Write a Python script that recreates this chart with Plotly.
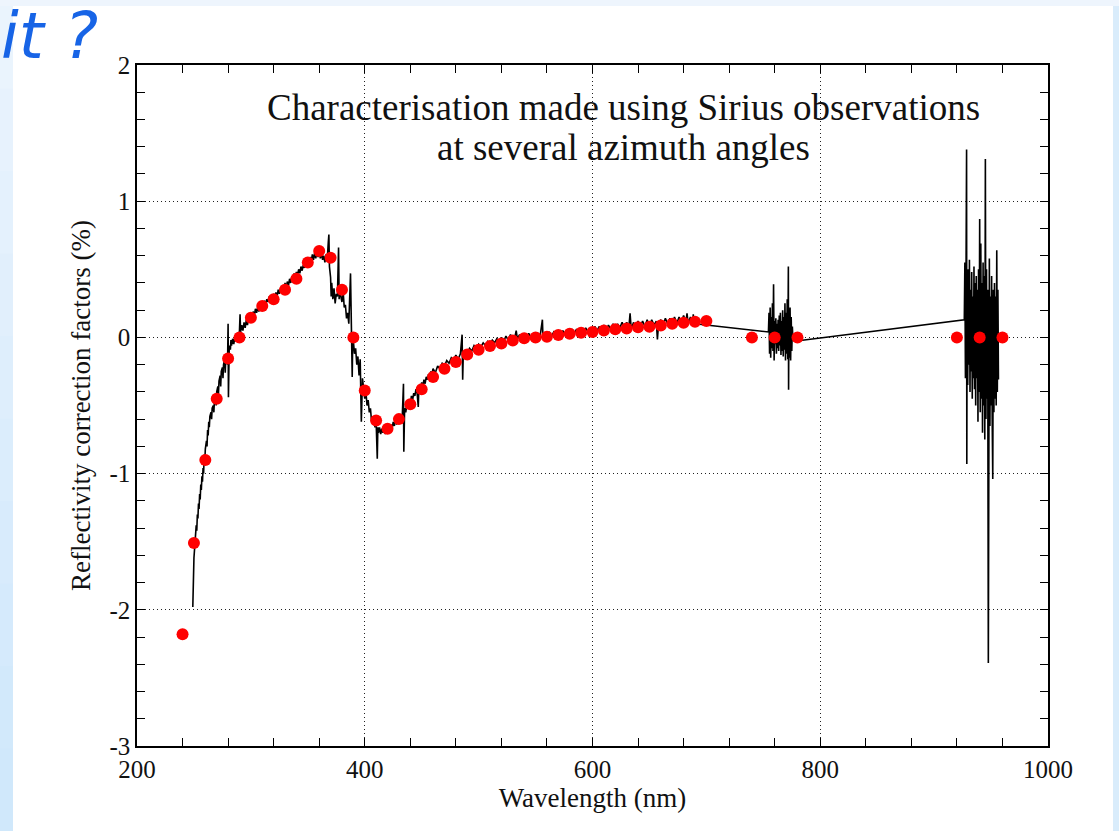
import plotly.graph_objects as go

# ---------------- data ----------------
# red points: characterisation (reflectivity correction, %)
pt_wl = [240, 250, 260, 270, 280, 290, 300, 310, 320, 330, 340, 350, 360, 370, 380, 390,
         400, 410, 420, 430, 440, 450, 460, 470, 480, 490, 500, 510, 520, 530, 540, 550,
         560, 570, 580, 590, 600, 610, 620, 630, 640, 650, 660, 670, 680, 690, 700,
         740, 760, 780, 920, 940, 960]
pt_val = [-2.18, -1.51, -0.90, -0.45, -0.155, 0.0, 0.145, 0.23, 0.28, 0.35, 0.43, 0.55, 0.635, 0.585, 0.35, 0.0,
          -0.39, -0.61, -0.67, -0.60, -0.49, -0.38, -0.29, -0.23, -0.18, -0.125, -0.09, -0.064, -0.044, -0.022, -0.007, 0.0,
          0.005, 0.017, 0.027, 0.034, 0.039, 0.05, 0.059, 0.066, 0.075, 0.078, 0.088, 0.10, 0.108, 0.115, 0.12,
          0.0, 0.0, 0.0, 0.0, 0.0, 0.0]

# black measured spectrum, UV part (249-400 nm)
uv_wl = [249.0, 249.3, 249.6, 250.0, 250.5, 251.0, 251.5, 252, 252.5, 253, 253.5, 254, 254.5, 255, 255.5,
         256, 256.5, 257, 257.5, 258, 258.5, 259, 259.5, 260, 261, 261.5, 262, 262.5, 263, 263.5, 264, 265,
         265.5, 266, 267, 267.5, 268, 269, 269.5, 270, 271, 271.5, 272, 273, 273.5, 274, 275, 275.5, 276,
         277, 277.5, 278, 279, 279.5, 280, 280.3, 280.6, 281, 282, 282.5, 283, 284, 285, 286, 287, 288, 289,
         290, 290.5, 291, 292, 293, 294, 295, 296, 297, 298, 299, 300, 301, 302, 303, 304, 305, 306, 307,
         308, 309, 310, 311, 312, 313, 314, 315, 316, 317, 318, 319, 320, 321, 322, 323, 324, 325, 326, 327,
         328, 329, 330, 331, 332, 333, 334, 335, 336, 337, 338, 339, 340, 341, 342, 343, 344, 345, 346, 347,
         348, 349, 350, 351, 352, 353, 354, 355, 356, 357, 358, 359, 360, 361, 362, 363, 364, 365, 366, 367,
         368, 368.5, 369, 370, 370.5, 371, 372, 373, 374, 375, 376, 377, 377.5, 378, 379, 380, 381, 382, 383,
         384, 385, 386, 387.5, 388, 389, 389.5, 390, 391, 392, 393, 394, 395, 396, 397, 398, 399, 400]
uv_val = [-1.98, -1.75, -1.88, -1.62, -1.56, -1.50, -1.45, -1.38, -1.42, -1.30, -1.33, -1.22, -1.26, -1.15, -1.19,
          -1.08, -1.12, -1.02, -1.06, -0.96, -1.00, -0.86, -0.92, -0.82, -0.76, -0.80, -0.68, -0.72, -0.62, -0.66, -0.58, -0.55,
          -0.60, -0.52, -0.50, -0.55, -0.46, -0.42, -0.50, -0.40, -0.36, -0.42, -0.32, -0.28, -0.36, -0.25, -0.22, -0.30, -0.20,
          -0.16, -0.26, -0.14, -0.12, -0.20, 0.10, -0.44, -0.10, -0.06, -0.09, -0.02, -0.06, -0.01, -0.05, 0.01, -0.03, 0.02, -0.01,
          0.05, 0.17, 0.04, 0.09, 0.05, 0.11, 0.07, 0.13, 0.09, 0.15, 0.12, 0.17, 0.14, 0.19, 0.16, 0.21, 0.18, 0.22, 0.19,
          0.24, 0.21, 0.25, 0.22, 0.27, 0.24, 0.28, 0.26, 0.30, 0.27, 0.31, 0.28, 0.32, 0.29, 0.33, 0.30, 0.35, 0.32, 0.36, 0.33,
          0.38, 0.34, 0.40, 0.36, 0.41, 0.38, 0.43, 0.40, 0.45, 0.42, 0.47, 0.44, 0.48, 0.46, 0.50, 0.47, 0.52, 0.49, 0.53, 0.51,
          0.55, 0.53, 0.57, 0.54, 0.59, 0.56, 0.61, 0.57, 0.62, 0.58, 0.64, 0.59, 0.63, 0.58, 0.62, 0.57, 0.60, 0.55, 0.61, 0.56,
          0.70, 0.755, 0.52, 0.44, 0.30, 0.40, 0.28, 0.36, 0.25, 0.32, 0.30, 0.66, 0.28, 0.36, 0.30, 0.26, 0.34, 0.22, 0.24,
          0.14, 0.18, 0.10, 0.47, 0.08, -0.29, 0.02, -0.05, -0.12, -0.08, -0.20, -0.14, -0.28, -0.16, -0.62, -0.30, -0.38, -0.45]

# black measured spectrum, visible part (401-694 nm)
vis_wl = [401, 402, 403, 404, 405, 406, 407, 408, 409, 410, 411, 411.5, 412, 413, 414, 415, 416, 417, 418, 419,
          420, 421, 422, 423, 424, 425, 426, 427, 428, 429, 430, 433, 434, 434.3, 434.6, 435, 436, 437, 438, 439,
          440, 441, 442, 443, 444, 445, 446, 447, 447.5, 448, 449, 450, 451, 452, 453, 454, 455, 456, 457, 458,
          459, 460, 462, 464, 466, 468, 470, 472, 474, 476, 478, 480, 482, 484, 485.5, 486, 486.5, 488, 490, 492,
          494, 496, 498, 500, 502, 504, 506, 508, 510, 512, 514, 516, 518, 520, 522, 524, 526, 528, 530, 532,
          533, 534, 536, 538, 540, 542, 544, 546, 548, 550, 552, 554, 556, 556.5, 558, 560, 562, 564, 566, 568,
          570, 572, 574, 576, 578, 580, 582, 584, 586, 588, 590, 592, 594, 596, 598, 600, 602, 604, 606, 608,
          610, 612, 614, 616, 618, 620, 622, 624, 626, 628, 630, 632, 633, 634, 636, 638, 640, 642, 644, 646,
          648, 650, 652, 654, 656, 657, 658, 660, 662, 664, 666, 668, 670, 672, 674, 676, 678, 680, 682, 683,
          684, 686, 688, 688.5, 689, 690, 692, 694]
vis_val = [-0.40, -0.50, -0.46, -0.55, -0.52, -0.62, -0.58, -0.60, -0.66, -0.62, -0.89, -0.66, -0.70, -0.66, -0.71, -0.67, -0.70, -0.66, -0.71, -0.67,
           -0.70, -0.66, -0.69, -0.64, -0.67, -0.62, -0.65, -0.60, -0.64, -0.59, -0.62, -0.57, -0.34, -0.84, -0.55, -0.52, -0.55, -0.49, -0.52, -0.46,
           -0.49, -0.43, -0.46, -0.41, -0.43, -0.38, -0.41, -0.51, -0.37, -0.35, -0.38, -0.33, -0.36, -0.31, -0.34, -0.29, -0.31, -0.27, -0.29, -0.25,
           -0.27, -0.23, -0.26, -0.21, -0.23, -0.19, -0.21, -0.17, -0.19, -0.15, -0.17, -0.13, -0.16, -0.12, 0.02, -0.31, -0.13, -0.10, -0.12, -0.08,
           -0.10, -0.06, -0.08, -0.05, -0.07, -0.04, -0.06, -0.03, -0.05, -0.02, -0.04, -0.01, -0.03, 0.0, -0.03, 0.01, -0.02, 0.02, -0.01, 0.01,
           0.05, -0.01, 0.02, -0.01, 0.02, 0.0, 0.03, 0.0, 0.03, 0.0, 0.03, 0.01, 0.13, 0.0, 0.03, 0.01, 0.04, 0.01, 0.04, 0.02,
           0.05, 0.02, 0.05, 0.02, 0.05, 0.03, 0.06, 0.03, 0.06, 0.03, 0.06, 0.04, 0.07, 0.04, 0.07, 0.04, 0.08, 0.05, 0.08, 0.05,
           0.09, 0.05, 0.09, 0.06, 0.10, 0.06, 0.10, 0.07, 0.11, 0.07, 0.11, 0.08, 0.176, 0.06, 0.11, 0.07, 0.12, 0.08, 0.12, 0.08,
           0.13, 0.08, 0.13, 0.09, 0.12, -0.015, 0.10, 0.13, 0.09, 0.14, 0.10, 0.14, 0.10, 0.15, 0.10, 0.15, 0.11, 0.16, 0.11, 0.176,
           0.10, 0.15, 0.11, 0.17, 0.10, 0.12, 0.10, 0.097]

# black measured spectrum, O2 A-band region (754-800 nm)
a_wl = [754.5, 755, 755.5, 756, 756.5, 757, 757.5, 758, 758.5, 759, 759.5, 760, 760.5, 761, 761.5, 762, 762.5,
        763, 763.5, 764, 764.5, 765, 765.5, 766, 766.5, 767, 767.5, 768, 768.5, 769, 769.5, 770, 770.5, 771,
        771.5, 772, 772.2, 772.5, 773, 773.5, 774, 774.5, 775, 775.5, 776, 779, 800]
a_val = [0.04, 0.18, -0.12, 0.22, -0.15, 0.15, -0.08, 0.25, -0.10, 0.39, -0.17, 0.12, -0.05, 0.14, -0.12, 0.10, -0.08,
         0.13, -0.10, 0.16, -0.06, 0.18, -0.13, 0.12, -0.10, 0.20, -0.14, 0.15, -0.09, 0.25, -0.17, 0.18, -0.12, 0.28,
         -0.16, 0.52, -0.385, 0.20, -0.15, 0.22, -0.17, 0.15, -0.10, 0.08, -0.02, -0.026, -0.005]

# black measured spectrum, water band region (926-957 nm)
w_wl = [926.5, 927, 927.5, 928, 928.5, 928.7, 929, 929.5, 930, 930.5, 931, 931.5, 932, 932.5, 933, 933.5, 934,
        934.5, 935, 935.5, 936, 936.5, 937, 937.5, 938, 938.5, 939, 939.5, 940, 940.5, 941, 941.5, 942, 942.5,
        943, 943.5, 944, 944.5, 945, 945.5, 946, 946.5, 947, 947.6, 948, 948.5, 949, 949.5, 950, 950.5, 951,
        951.5, 952, 952.5, 953, 953.5, 954, 954.5, 955, 955.5, 956, 956.5]
w_val = [0.13, 0.55, -0.30, 0.45, 1.38, -0.93, 0.40, -0.35, 0.50, -0.20, 0.57, -0.40, 0.35, -0.25, 0.48, -0.45, 0.30,
         -0.30, 0.52, -0.38, 0.40, -0.50, 0.45, -0.30, 0.35, -0.62, 0.50, -0.40, 0.87, -0.55, 0.69, -0.45, 0.40, -0.70,
         0.55, -0.50, 0.45, -0.75, 1.31, -0.60, 0.50, -0.45, 0.35, -2.39, 0.40, 0.58, -0.65, 0.30, -0.50, 0.45, -0.60,
         -1.04, 0.35, -0.55, 0.40, -0.45, 0.30, -0.50, 0.64, -0.40, 0.35, -0.31]

x_ticks = [200, 400, 600, 800, 1000]
x_ticktext = ["200", "400", "600", "800", "1000"]
y_ticks = [-3, -2, -1, 0, 1, 2]
y_ticktext = ["-3", "-2", "-1", "0", "1", "2"]

title_lines = ["Characterisation made using Sirius observations", "at several azimuth angles"]
x_title = "Wavelength (nm)"
y_title = "Reflectivity correction factors (%)"
corner_text = "it ?"

# ---------------- figure ----------------
spec_x = uv_wl + vis_wl + a_wl + w_wl
spec_y = uv_val + vis_val + a_val + w_val

fig = go.Figure()
fig.add_trace(go.Scatter(x=spec_x, y=spec_y, mode="lines",
                         line=dict(color="black", width=1.6), hoverinfo="skip", showlegend=False))
fig.add_trace(go.Scatter(x=pt_wl, y=pt_val, mode="markers",
                         marker=dict(color="#ff0000", size=12, line=dict(width=0)), showlegend=False))

W, H = 1119, 831
L, R, T, B = 137, 1048, 65, 746
pw, ph = R - L, B - T


def px_x(px):
    return (px - L) / pw


def px_y(py):
    return (B - py) / ph


shapes = []
# slide background strips
grad = ["#eaf4fd", "#e7f2fd", "#e4f1fd", "#e1effc", "#deeefc", "#dbedfc", "#d8ebfc", "#d5eafc", "#d2e9fb", "#d0e8fb"]
n = len(grad)
for i, c in enumerate(grad):
    y0 = 6 + i * (H - 6) / n
    y1 = 6 + (i + 1) * (H - 6) / n + 1
    shapes.append(dict(type="rect", xref="paper", yref="paper", x0=px_x(0), x1=px_x(13),
                       y0=px_y(y1), y1=px_y(y0), fillcolor=c, line=dict(width=0), layer="below"))
shapes.append(dict(type="rect", xref="paper", yref="paper", x0=px_x(0), x1=px_x(W),
                   y0=px_y(6), y1=px_y(0), fillcolor="#eef5fd", line=dict(width=0), layer="below"))
shapes.append(dict(type="rect", xref="paper", yref="paper", x0=px_x(1113), x1=px_x(W),
                   y0=px_y(H), y1=px_y(6), fillcolor="#d9ecfb", line=dict(width=0), layer="below"))

serif = "Liberation Serif, Times New Roman, serif"

axis_common = dict(showline=True, linecolor="black", linewidth=1.5, mirror="ticks",
                   ticks="inside", ticklen=8, tickwidth=1.2, tickcolor="black",
                   showgrid=True, gridcolor="#222", gridwidth=1, griddash="1px,3px",
                   zeroline=False, tickfont=dict(family=serif, size=25, color="#111"))

fig.update_xaxes(range=[200, 1000], tickvals=x_ticks, ticktext=x_ticktext,
                 minor=dict(dtick=40, ticks="inside", ticklen=8, tickwidth=1.2, tickcolor="black", showgrid=False),
                 title=dict(text=x_title, font=dict(family=serif, size=27, color="#111"), standoff=5),
                 **axis_common)
fig.update_yaxes(range=[-3, 2], tickvals=y_ticks, ticktext=y_ticktext,
                 minor=dict(dtick=0.2, ticks="inside", ticklen=8, tickwidth=1.2, tickcolor="black", showgrid=False),
                 title=dict(text=y_title, font=dict(family=serif, size=27, color="#111"), standoff=11),
                 ticklabelstandoff=0, **axis_common)

fig.update_layout(
    width=W, height=H,
    margin=dict(l=L, r=W - R, t=T, b=H - B, pad=0),
    paper_bgcolor="white", plot_bgcolor="white",
    shapes=shapes,
    annotations=[
        dict(text=title_lines[0], xref="paper", yref="paper", x=px_x(623), y=px_y(107),
             xanchor="center", yanchor="middle", showarrow=False,
             font=dict(family=serif, size=37, color="#111")),
        dict(text=title_lines[1], xref="paper", yref="paper", x=px_x(623), y=px_y(148),
             xanchor="center", yanchor="middle", showarrow=False,
             font=dict(family=serif, size=37, color="#111")),
        dict(text="<i>" + corner_text + "</i>", xref="paper", yref="paper", x=px_x(0), y=px_y(-2),
             xanchor="left", yanchor="top", showarrow=False, borderpad=0,
             font=dict(family="DejaVu Sans", size=64, color="#1764e6")),
    ],
)

fig.write_html("out.html", config={"displayModeBar": False},
               post_script="document.body.style.margin='0';document.body.style.overflow='hidden';")
